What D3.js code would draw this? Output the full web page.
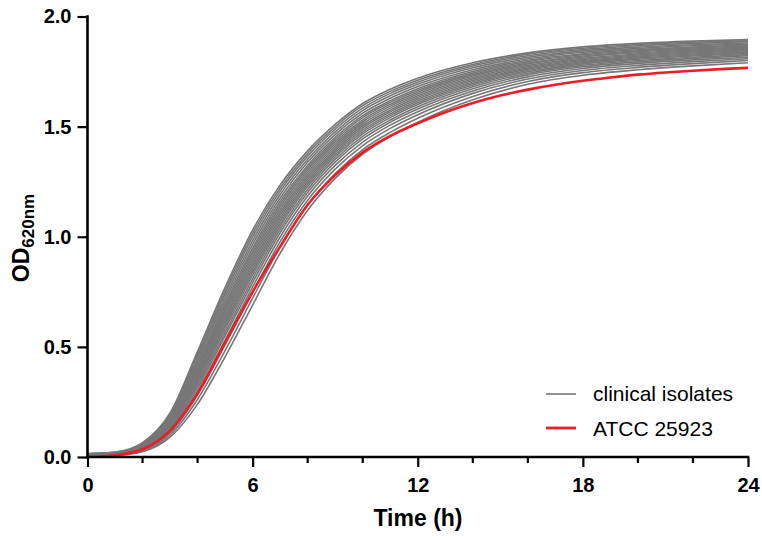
<!DOCTYPE html>
<html>
<head>
<meta charset="utf-8">
<script src="https://cdn.jsdelivr.net/npm/d3@7"></script>
<style>
  body { margin: 0; background: #fff; }
  text { font-family: Arial, "Liberation Sans", sans-serif; }
</style>
</head>
<body>
<script>
// sampling times (h) for the clinical isolates
const hours = [0, 1, 2, 3, 4, 5, 6, 7, 8, 9, 10, 11, 12, 14, 16, 18, 20, 22, 24]

// OD620 of each clinical isolate
const isolates = [
  [0.005, 0.007, 0.024, 0.090, 0.240, 0.455, 0.690, 0.925, 1.120, 1.265, 1.375, 1.455, 1.520, 1.622, 1.692, 1.733, 1.758, 1.776, 1.790],
  [0.006, 0.008, 0.028, 0.100, 0.262, 0.483, 0.721, 0.953, 1.144, 1.287, 1.396, 1.474, 1.538, 1.637, 1.705, 1.745, 1.769, 1.786, 1.800],
  [0.007, 0.010, 0.031, 0.109, 0.281, 0.509, 0.748, 0.978, 1.166, 1.307, 1.414, 1.492, 1.554, 1.651, 1.716, 1.755, 1.778, 1.795, 1.808],
  [0.007, 0.011, 0.034, 0.116, 0.298, 0.531, 0.772, 0.999, 1.185, 1.324, 1.430, 1.507, 1.568, 1.662, 1.726, 1.764, 1.787, 1.803, 1.815],
  [0.008, 0.012, 0.036, 0.123, 0.312, 0.550, 0.792, 1.018, 1.201, 1.339, 1.444, 1.520, 1.580, 1.672, 1.735, 1.772, 1.794, 1.810, 1.822],
  [0.009, 0.012, 0.038, 0.129, 0.324, 0.565, 0.809, 1.034, 1.215, 1.351, 1.456, 1.530, 1.590, 1.681, 1.742, 1.778, 1.800, 1.815, 1.827],
  [0.009, 0.013, 0.040, 0.134, 0.336, 0.581, 0.826, 1.049, 1.228, 1.363, 1.467, 1.541, 1.600, 1.689, 1.749, 1.785, 1.806, 1.821, 1.832],
  [0.009, 0.014, 0.042, 0.138, 0.346, 0.594, 0.840, 1.061, 1.239, 1.373, 1.476, 1.550, 1.608, 1.696, 1.755, 1.790, 1.811, 1.825, 1.836],
  [0.010, 0.014, 0.044, 0.143, 0.355, 0.606, 0.853, 1.074, 1.250, 1.383, 1.485, 1.558, 1.616, 1.703, 1.761, 1.795, 1.816, 1.830, 1.840],
  [0.010, 0.015, 0.045, 0.147, 0.365, 0.619, 0.867, 1.086, 1.260, 1.392, 1.495, 1.567, 1.624, 1.709, 1.766, 1.800, 1.820, 1.834, 1.845],
  [0.011, 0.015, 0.047, 0.152, 0.374, 0.631, 0.880, 1.099, 1.271, 1.402, 1.504, 1.575, 1.632, 1.716, 1.772, 1.805, 1.825, 1.839, 1.849],
  [0.011, 0.016, 0.049, 0.156, 0.384, 0.644, 0.894, 1.111, 1.282, 1.412, 1.513, 1.584, 1.640, 1.723, 1.778, 1.810, 1.830, 1.843, 1.853],
  [0.011, 0.017, 0.050, 0.160, 0.394, 0.657, 0.908, 1.123, 1.293, 1.422, 1.522, 1.593, 1.648, 1.730, 1.784, 1.816, 1.835, 1.848, 1.857],
  [0.012, 0.017, 0.052, 0.165, 0.403, 0.669, 0.921, 1.136, 1.304, 1.432, 1.531, 1.601, 1.656, 1.736, 1.789, 1.821, 1.840, 1.852, 1.861],
  [0.012, 0.018, 0.054, 0.169, 0.413, 0.682, 0.935, 1.148, 1.314, 1.441, 1.541, 1.610, 1.664, 1.743, 1.795, 1.826, 1.844, 1.857, 1.866],
  [0.013, 0.018, 0.055, 0.174, 0.422, 0.694, 0.948, 1.161, 1.325, 1.451, 1.550, 1.618, 1.672, 1.750, 1.801, 1.831, 1.849, 1.861, 1.870],
  [0.013, 0.019, 0.057, 0.179, 0.434, 0.710, 0.965, 1.176, 1.339, 1.464, 1.561, 1.629, 1.682, 1.758, 1.808, 1.838, 1.855, 1.867, 1.875],
  [0.014, 0.020, 0.059, 0.185, 0.446, 0.726, 0.982, 1.192, 1.352, 1.476, 1.573, 1.640, 1.692, 1.767, 1.815, 1.844, 1.861, 1.872, 1.880],
  [0.014, 0.021, 0.061, 0.190, 0.458, 0.742, 0.999, 1.207, 1.366, 1.488, 1.584, 1.651, 1.702, 1.775, 1.822, 1.850, 1.867, 1.878, 1.886],
  [0.015, 0.021, 0.063, 0.195, 0.469, 0.756, 1.015, 1.221, 1.378, 1.499, 1.595, 1.660, 1.711, 1.782, 1.829, 1.856, 1.873, 1.883, 1.890],
  [0.015, 0.022, 0.065, 0.200, 0.480, 0.770, 1.030, 1.235, 1.390, 1.510, 1.605, 1.670, 1.720, 1.790, 1.835, 1.862, 1.878, 1.888, 1.895]
]

// reference strain
const atccHours = [0.4, 1, 2, 3, 4, 5, 6, 7, 8, 9, 10, 11, 12, 13, 14, 15, 16, 17, 18, 19, 20, 21, 22, 23, 24]
const atcc = [0.002, 0.008, 0.035, 0.12, 0.29, 0.52, 0.75, 0.955, 1.145, 1.28, 1.383, 1.458, 1.515, 1.565, 1.607, 1.641, 1.668, 1.69, 1.708, 1.723, 1.736, 1.746, 1.754, 1.761, 1.767]

const xTicks = [0, 6, 12, 18, 24]
const xMinor = [2, 4, 8, 10, 14, 16, 20, 22]
const yTicks = [0, 0.5, 1.0, 1.5, 2.0]

const width = 762, height = 537
const svg = d3.select('body').append('svg')
  .attr('width', width)
  .attr('height', height)

const x = d3.scaleLinear().domain([0, 24]).range([87.5, 748])
const y = d3.scaleLinear().domain([0, 2]).range([457, 16.5])

const line = d3.line()
  .x(d => x(d[0]))
  .y(d => y(d[1]))
  .curve(d3.curveMonotoneX)

// clinical isolates
svg.append('g')
  .selectAll('path')
  .data(isolates)
  .join('path')
  .attr('fill', 'none')
  .attr('stroke', '#777')
  .attr('stroke-width', 1.6)
  .attr('d', vals => line(vals.map((v, i) => [hours[i], v])))

// ATCC 25923
svg.append('path')
  .attr('fill', 'none')
  .attr('stroke', '#ee1c24')
  .attr('stroke-width', 2.6)
  .attr('d', line(atcc.map((v, i) => [atccHours[i], v])))

// axes
const xAxis = svg.append('g')
  .attr('transform', `translate(0,${y(0)})`)
  .call(d3.axisBottom(x).tickValues(xTicks).tickSize(10).tickFormat(d3.format('d')))
xAxis.selectAll('.minor')
  .data(xMinor)
  .enter()
  .append('line')
  .attr('class', 'minor')
  .attr('x1', d => x(d)).attr('x2', d => x(d))
  .attr('y1', 0).attr('y2', 6)
  .attr('stroke', '#000').attr('stroke-width', 2.2)

const yAxis = svg.append('g')
  .attr('transform', `translate(${x(0)},0)`)
  .call(d3.axisLeft(y).tickValues(yTicks).tickSize(10).tickFormat(d3.format('.1f')))

for (const g of [xAxis, yAxis]) {
  g.select('.domain').attr('stroke-width', 2.6).attr('stroke-linecap', 'square')
  g.selectAll('.tick line').attr('stroke-width', 2.2)
  g.selectAll('.tick text')
    .attr('font-size', 20)
    .attr('font-weight', 'bold')
    .attr('fill', '#000')
    .style('font-family', 'Arial, "Liberation Sans", sans-serif')
}
xAxis.select('.domain').attr('d', `M${x(0)},0H${x(24)}`)
yAxis.select('.domain').attr('d', `M0,${y(0)}V${y(2)}`)
xAxis.selectAll('.tick text').attr('dy', '1.1em')
yAxis.selectAll('.tick text').attr('dx', '-0.15em')

// axis titles
svg.append('text')
  .attr('x', 418).attr('y', 526)
  .attr('text-anchor', 'middle')
  .attr('font-size', 23).attr('font-weight', 'bold')
  .text('Time (h)')

const yl = svg.append('text')
  .attr('transform', 'translate(29,238) rotate(-90)')
  .attr('text-anchor', 'middle')
  .attr('font-size', 23).attr('font-weight', 'bold')
yl.append('tspan').text('OD')
yl.append('tspan').attr('font-size', 17).attr('dy', 5).text('620nm')

// legend
const legend = [
  {label: 'clinical isolates', color: '#777', w: 1.6},
  {label: 'ATCC 25923', color: '#ee1c24', w: 2.8}
]
const lg = svg.append('g')
lg.selectAll('line')
  .data(legend)
  .join('line')
  .attr('x1', 546).attr('x2', 576)
  .attr('y1', (d, i) => 394 + i * 34).attr('y2', (d, i) => 394 + i * 34)
  .attr('stroke', d => d.color)
  .attr('stroke-width', d => d.w)
lg.selectAll('text')
  .data(legend)
  .join('text')
  .attr('x', 593)
  .attr('y', (d, i) => 401 + i * 35)
  .attr('font-size', 21)
  .text(d => d.label)
</script>
</body>
</html>
